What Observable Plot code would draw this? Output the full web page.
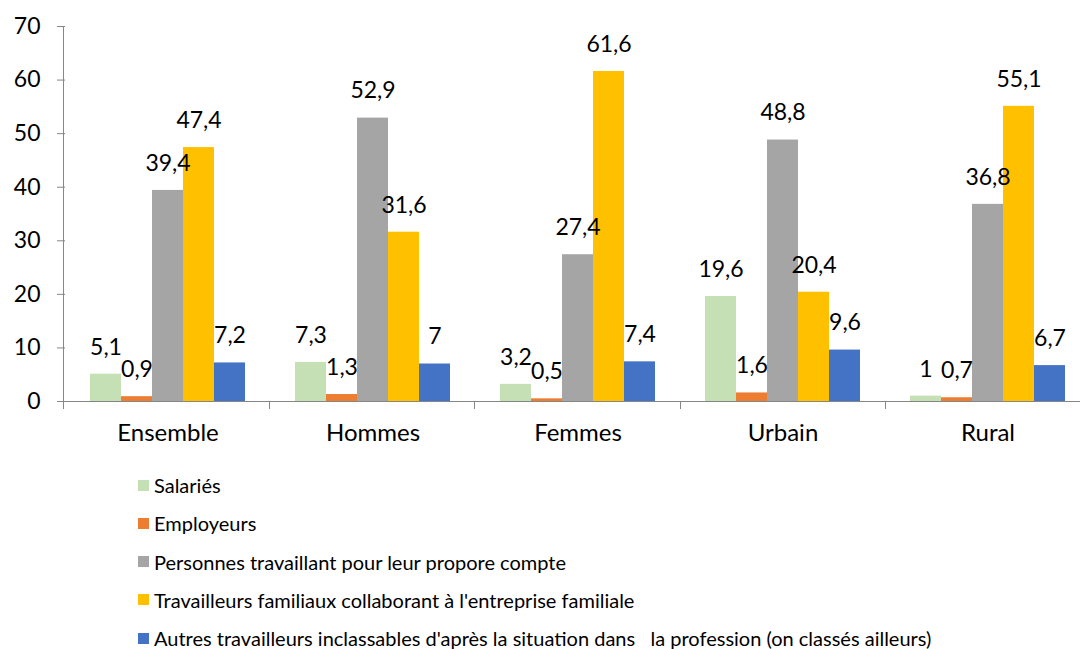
<!DOCTYPE html>
<html><head><meta charset="utf-8">
<script src="https://cdn.jsdelivr.net/npm/d3@7"></script>
<script src="https://cdn.jsdelivr.net/npm/@observablehq/plot@0.6"></script>
<style>
body{margin:0;background:#fff;font-family:Lato,sans-serif;}
#chart svg{display:block;overflow:visible}
#legend{margin-left:138px;margin-top:11px}
.row{display:flex;align-items:center;height:38.25px;font-size:20px;color:#000;white-space:pre}
.sw{width:11px;height:11px;margin-right:5px;flex:none}
</style></head>
<body><div id="chart"></div><div id="legend"></div>
<script>
const groups = ["Ensemble","Hommes","Femmes","Urbain","Rural"];
const series = ["Salariés","Employeurs","Personnes travaillant pour leur propore compte","Travailleurs familiaux collaborant à l'entreprise familiale","Autres travailleurs inclassables d'après la situation dans   la profession (on classés ailleurs)"];
const colors = ["#C5E0B4","#ED7D31","#A5A5A5","#FFC000","#4472C4"];
const salaries = [5.1,7.3,3.2,19.6,1];
const employeurs = [0.9,1.3,0.5,1.6,0.7];
const personnes = [39.4,52.9,27.4,48.8,36.8];
const travailleurs = [47.4,31.6,61.6,20.4,55.1];
const autres = [7.2,7,7.4,9.6,6.7];
const yTicks = [0,10,20,30,40,50,60,70];

const seriesValues = [salaries, employeurs, personnes, travailleurs, autres];
const data = [];
groups.forEach((g, gi) => series.forEach((s, si) => data.push({group: g, series: s, value: seriesValues[si][gi]})));
const fmt = v => String(v).replace(".", ",");
const axisColor = "#868686";

const chart = Plot.plot({
  width: 1080, height: 455,
  marginTop: 26, marginBottom: 54, marginLeft: 63, marginRight: 0,
  style: {fontFamily: "Lato, sans-serif", fontSize: "22px", color: "#000", background: "#fff", overflow: "visible"},
  fx: {domain: groups, range: [63, 1091], padding: 0, label: null, axis: null},
  x: {domain: series, paddingInner: 0, paddingOuter: 0.77, axis: null},
  y: {domain: [0, 70], label: null, axis: null},
  color: {domain: series, range: colors},
  marks: [
    Plot.barY(data, {fx: "group", x: "series", y: "value", fill: "series"}),
    Plot.ruleY([0], {stroke: axisColor}),
    Plot.text(data, {fx: "group", x: "series", y: "value", text: d => fmt(d.value), dy: -27, fontSize: 23, fill: "#000"}),
    Plot.axisY({ticks: yTicks, tickSize: 8, tickPadding: 17, stroke: axisColor, fill: "#000", fontSize: 23, label: null}),
    Plot.axisFx({anchor: "bottom", tickSize: 0, tickPadding: 22, fontSize: 24, label: null, fill: "#000"})
  ]
});
document.getElementById("chart").appendChild(chart);

// axis line and category boundary ticks, from the chart's scales
const fxS = chart.scale("fx"), yS = chart.scale("y");
const svg = d3.select(chart);
const x0 = fxS.range[0];
const yTop = yS.range[1], yBase = yS.range[0];
const bw = (fxS.range[1] - fxS.range[0]) / groups.length;
const g = svg.append("g").attr("stroke", axisColor).attr("stroke-width", 1);
g.append("line").attr("x1", x0 + 0.5).attr("x2", x0 + 0.5).attr("y1", yTop).attr("y2", yBase + 8);
groups.slice(1).forEach((d, i) => {
  const xx = Math.round(x0 + bw * (i + 1)) + 0.5;
  g.append("line").attr("x1", xx).attr("x2", xx).attr("y1", yBase).attr("y2", yBase + 8);
});

const legend = d3.select("#legend");
series.forEach((s, i) => {
  const row = legend.append("div").attr("class", "row");
  row.append("div").attr("class", "sw").style("background", colors[i]);
  row.append("span").text(s);
});
</script>
</body></html>
